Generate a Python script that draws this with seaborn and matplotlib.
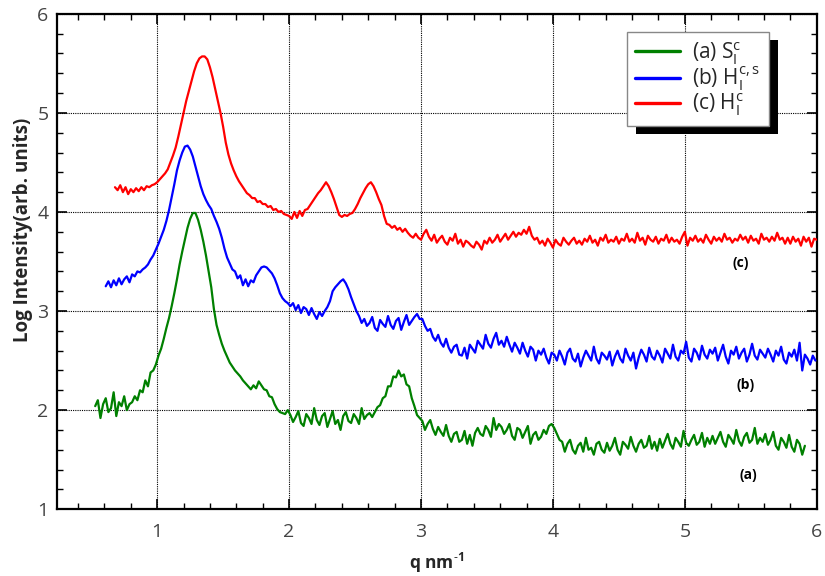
import numpy as np
import pandas as pd
import matplotlib
matplotlib.use("Agg")
import matplotlib.pyplot as plt
from matplotlib import font_manager as fm
from matplotlib.patches import Rectangle
import seaborn as sns

# ---------------- data ----------------
q_step = 0.02

q_start_a = 0.53
int_a = [2.04, 2.10, 1.92, 2.06, 2.12, 1.98, 2.02, 2.18, 1.94, 2.08, 2.04, 2.14, 2.00, 2.06,
         2.08, 2.14, 2.10, 2.20, 2.18, 2.30, 2.24, 2.38, 2.40, 2.46,
         2.55, 2.62, 2.72, 2.83, 2.93, 3.05, 3.18, 3.32, 3.47, 3.60, 3.72, 3.84, 3.93, 3.99, 3.99, 3.92,
         3.82, 3.70, 3.56, 3.40, 3.24, 3.02, 2.86, 2.76, 2.67, 2.60, 2.54, 2.48, 2.44, 2.40, 2.37, 2.34,
         2.30, 2.27, 2.24, 2.21, 2.25, 2.22, 2.29, 2.25, 2.21, 2.20, 2.14, 2.13, 2.06, 2.01, 1.98, 1.97,
         1.96, 2.00,
         1.95, 1.88, 1.93, 1.99, 1.87, 1.84, 1.96, 1.92, 1.86, 2.02, 1.90, 1.85, 1.94, 1.97, 1.83, 1.91,
         1.99, 1.86, 1.90, 1.80, 1.94, 1.98, 1.89, 1.87, 1.96, 1.92, 1.86, 2.02, 1.91, 1.95, 1.97, 1.93,
         1.98, 2.03,
         2.05, 2.12, 2.14, 2.24, 2.24, 2.34, 2.33, 2.40, 2.34, 2.36, 2.26, 2.24, 2.12, 2.04, 1.95, 1.92,
         1.89, 1.80, 1.86, 1.90, 1.81, 1.75, 1.83, 1.78, 1.74, 1.85, 1.74, 1.68, 1.76, 1.78, 1.68,
         1.70, 1.79, 1.66, 1.75, 1.64, 1.77, 1.82, 1.76, 1.74, 1.84, 1.80, 1.73, 1.92, 1.80, 1.86,
         1.83, 1.76, 1.80, 1.86, 1.74, 1.70, 1.82, 1.80, 1.72, 1.78, 1.84, 1.66, 1.75, 1.78, 1.70, 1.73,
         1.80, 1.76, 1.84, 1.86,
         1.82, 1.76, 1.70, 1.68, 1.58, 1.66, 1.70, 1.60, 1.56, 1.64, 1.67, 1.58, 1.72, 1.60, 1.62, 1.55,
         1.66, 1.68, 1.60, 1.57,
         1.67, 1.59, 1.64, 1.72, 1.60, 1.55, 1.68, 1.65, 1.61, 1.73, 1.64, 1.58, 1.66, 1.70, 1.62, 1.64,
         1.74, 1.61, 1.68, 1.59,
         1.71, 1.62, 1.69, 1.76, 1.66, 1.61, 1.72, 1.68, 1.63, 1.79, 1.67, 1.64, 1.70, 1.75, 1.65, 1.68,
         1.77, 1.63, 1.72, 1.66,
         1.74, 1.66, 1.72, 1.78, 1.68, 1.63, 1.75, 1.71, 1.66, 1.80, 1.69, 1.64, 1.73, 1.77, 1.67, 1.70,
         1.82, 1.66, 1.72, 1.68,
         1.76, 1.65, 1.70, 1.78, 1.64, 1.60, 1.72, 1.68, 1.62, 1.75, 1.63, 1.58, 1.70, 1.66, 1.55, 1.64]

q_start_b = 0.61
int_b = [3.25, 3.30, 3.24, 3.31, 3.26, 3.33, 3.27, 3.32, 3.35, 3.29, 3.37, 3.35, 3.40, 3.39, 3.42,
         3.44, 3.47, 3.52, 3.56, 3.62, 3.68, 3.75, 3.82, 3.91, 4.02, 4.15, 4.28, 4.42, 4.52, 4.60,
         4.66, 4.67, 4.63, 4.56, 4.46, 4.36, 4.26, 4.18, 4.12, 4.07, 4.03, 3.96, 3.90, 3.83, 3.74,
         3.63, 3.54, 3.48, 3.42, 3.40, 3.33, 3.36, 3.26, 3.32, 3.25, 3.31, 3.29, 3.36, 3.40, 3.44,
         3.45, 3.44, 3.41, 3.38, 3.33, 3.26, 3.18, 3.13, 3.10, 3.08,
         3.05, 3.08, 3.01, 3.06, 2.98, 3.04, 3.02, 2.96, 3.03, 2.97, 2.92, 2.99, 2.95, 3.00, 3.04,
         3.10, 3.20, 3.24, 3.27, 3.30, 3.32, 3.28, 3.22, 3.14, 3.07, 3.00, 2.95, 2.88,
         2.92, 2.85, 2.88, 2.94, 2.83, 2.80, 2.91, 2.87, 2.84, 2.95, 2.86, 2.82, 2.90, 2.93, 2.81, 2.89,
         2.96, 2.86, 2.90, 2.94, 2.97, 2.92,
         2.92, 2.85, 2.80, 2.82, 2.74, 2.70, 2.76, 2.68, 2.64, 2.72, 2.63, 2.58, 2.64, 2.66, 2.56,
         2.55, 2.63, 2.52, 2.66, 2.62, 2.58, 2.70, 2.66, 2.62, 2.76, 2.67, 2.63, 2.72, 2.78, 2.66,
         2.70, 2.64, 2.74, 2.66, 2.59, 2.68, 2.63, 2.57, 2.68, 2.60, 2.54, 2.64, 2.61, 2.50, 2.60, 2.56,
         2.62, 2.53, 2.47, 2.58,
         2.56, 2.50, 2.60, 2.54, 2.46, 2.58, 2.62, 2.52, 2.49, 2.57, 2.44, 2.53, 2.60, 2.55, 2.50, 2.64,
         2.52, 2.47, 2.58, 2.55,
         2.51, 2.59, 2.45, 2.54, 2.60, 2.52, 2.48, 2.62, 2.55, 2.50, 2.58, 2.42, 2.53, 2.61, 2.56, 2.49,
         2.63, 2.54, 2.51, 2.60,
         2.55, 2.48, 2.62, 2.57, 2.52, 2.66, 2.54, 2.50, 2.60, 2.57, 2.69, 2.53, 2.49, 2.62, 2.58, 2.51,
         2.65, 2.56, 2.52, 2.61,
         2.57, 2.63, 2.50, 2.58, 2.66, 2.54, 2.47, 2.60, 2.56, 2.64, 2.52, 2.58, 2.62, 2.49, 2.56, 2.67,
         2.55, 2.51, 2.61, 2.57,
         2.53, 2.62, 2.56, 2.49, 2.60, 2.55, 2.64, 2.51, 2.47, 2.58, 2.54, 2.61, 2.50, 2.68, 2.40, 2.56,
         2.52, 2.46, 2.55, 2.50]

q_start_c = 0.68
int_c = [4.25, 4.22, 4.27, 4.20, 4.25, 4.18, 4.23, 4.20, 4.24, 4.21, 4.25, 4.22, 4.26, 4.25, 4.27, 4.28,
         4.30, 4.33, 4.36, 4.39, 4.43, 4.50, 4.57, 4.65, 4.76, 4.88, 5.00, 5.12, 5.22, 5.32, 5.42, 5.50,
         5.55, 5.57, 5.57, 5.54, 5.46, 5.36, 5.24, 5.12, 5.00, 4.86, 4.70, 4.58, 4.49, 4.42, 4.36, 4.31,
         4.27, 4.23, 4.19, 4.17, 4.14, 4.14, 4.10, 4.11, 4.08, 4.08, 4.05, 4.06, 4.02, 4.03, 4.00, 4.01,
         3.98, 3.97,
         3.96, 3.93, 4.00, 3.94, 4.01, 3.96, 4.02, 4.03, 4.07, 4.11, 4.15, 4.19, 4.22, 4.26, 4.30, 4.26,
         4.20, 4.13, 4.05, 3.97, 3.95, 3.97, 3.96, 3.98, 3.99, 4.03, 4.08, 4.14, 4.19, 4.24, 4.28, 4.30,
         4.26, 4.20, 4.13, 4.07, 3.96, 3.88, 3.87, 3.84, 3.86, 3.82, 3.84, 3.80, 3.83, 3.79, 3.76, 3.74,
         3.78, 3.74,
         3.72, 3.78, 3.82, 3.75, 3.71, 3.77, 3.69, 3.73, 3.76, 3.70, 3.67, 3.74, 3.71, 3.78, 3.68, 3.72,
         3.65, 3.71, 3.69, 3.66,
         3.64, 3.70, 3.67, 3.62, 3.71, 3.68, 3.74, 3.69, 3.72, 3.77, 3.70, 3.74, 3.78, 3.72, 3.76, 3.80,
         3.75, 3.79, 3.77, 3.82,
         3.78, 3.85, 3.76, 3.72, 3.74, 3.68, 3.71, 3.66, 3.73, 3.69, 3.64, 3.72, 3.68, 3.66, 3.74, 3.70,
         3.67, 3.71, 3.74, 3.68,
         3.71, 3.67, 3.73, 3.70, 3.76, 3.69, 3.72, 3.66, 3.74, 3.71, 3.77, 3.69, 3.72, 3.70, 3.75, 3.68,
         3.73, 3.71, 3.78, 3.70,
         3.73, 3.69, 3.79, 3.71, 3.74, 3.67, 3.76, 3.72, 3.70, 3.75, 3.68, 3.73, 3.71, 3.77, 3.69, 3.74,
         3.70, 3.72, 3.68, 3.75,
         3.80, 3.66, 3.74, 3.71, 3.76, 3.70, 3.73, 3.69, 3.77, 3.72, 3.68, 3.75, 3.71, 3.74, 3.70, 3.78,
         3.72, 3.74, 3.69, 3.73,
         3.71, 3.77, 3.72, 3.75, 3.69, 3.76, 3.71, 3.73, 3.68, 3.78, 3.72, 3.74, 3.70, 3.75, 3.71, 3.79,
         3.72, 3.74, 3.68, 3.74,
         3.68, 3.75, 3.70, 3.73, 3.66, 3.75, 3.70, 3.74, 3.65, 3.73, 3.72]

series_labels = [r"(a) S$_\mathregular{I}^\mathregular{c}$",
                 r"(b) H$_\mathregular{I}^\mathregular{c,s}$",
                 r"(c) H$_\mathregular{I}^\mathregular{c}$"]
series_colors = ["#008000", "#0000ff", "#ff0000"]
curve_tags = ["(a)", "(b)", "(c)"]
tag_pos = [(5.48, 1.34), (5.46, 2.25), (5.42, 3.48)]
major_ticks = [1, 2, 3, 4, 5, 6]

# ---------------- build table ----------------
frames = []
for lab, start, vals in zip(series_labels, [q_start_a, q_start_b, q_start_c], [int_a, int_b, int_c]):
    q = start + q_step * np.arange(len(vals))
    frames.append(pd.DataFrame({"q": q, "I": vals, "series": lab}))
df = pd.concat(frames, ignore_index=True)

# ---------------- plot ----------------
sns.set_style("ticks")
plt.rcParams["font.family"] = ["Open Sans", "DejaVu Sans"]
plt.rcParams["mathtext.fontset"] = "custom"
plt.rcParams["mathtext.rm"] = "Open Sans"
plt.rcParams["mathtext.bf"] = "Open Sans:bold"

installed = {f.name for f in fm.fontManager.ttflist}
tick_family = "Liberation Sans Narrow" if "Liberation Sans Narrow" in installed else "Open Sans"

fig = plt.figure(figsize=(8.25, 5.76), dpi=100)
ax = fig.add_axes([0.069, 0.116, 0.921, 0.860])

sns.lineplot(data=df, x="q", y="I", hue="series", palette=dict(zip(series_labels, series_colors)),
             estimator=None, sort=False, linewidth=1.6, ax=ax, legend=False, zorder=3)

ax.set_xlim(0.24, 6.0)
ax.set_ylim(1, 6)
ax.set_xticks(major_ticks)
ax.set_yticks(major_ticks)
ax.set_xticks(np.arange(0.4, 6.0, 0.2), minor=True)
ax.set_yticks(np.arange(1.2, 6.0, 0.2), minor=True)
ax.grid(True, which="major", color="black", linestyle=(0, (1, 1)), linewidth=0.8, zorder=0)
ax.tick_params(which="both", direction="in", top=True, right=True, color="black",
               labelsize=14, labelcolor="#444444")
ax.tick_params(which="major", length=7, width=1.2)
ax.tick_params(which="minor", length=4, width=1.0)
ax.tick_params(axis="x", which="major", pad=10)
ax.tick_params(axis="y", which="major", pad=6)
for lbl in ax.get_xticklabels() + ax.get_yticklabels():
    lbl.set_fontfamily(tick_family)
for s in ax.spines.values():
    s.set_linewidth(1.6)
    s.set_color("black")

ax.set_xlabel(r"q nm$^{\mathbf{\text{-}1}}$", fontsize=12.5, fontweight="bold", labelpad=7)
ax.set_ylabel("Log Intensity(arb. units)", fontsize=13.5, fontweight="bold")
ax.yaxis.set_label_coords(-0.031, 0.564)

for t, (x, y) in zip(curve_tags, tag_pos):
    ax.text(x, y, t, fontsize=10, fontweight="bold", ha="center", va="center", color="black")

handles = [plt.Line2D([], [], color=c, linewidth=2.4) for c in series_colors]
leg = ax.legend(handles, series_labels, loc="upper left", bbox_to_anchor=(0.75, 0.964),
                fontsize=15, frameon=True, fancybox=False, handlelength=2.15,
                borderpad=0.4, labelspacing=-0.09, handletextpad=0.6, borderaxespad=0)
leg.get_frame().set_edgecolor("#888888")
leg.get_frame().set_linewidth(1.0)
leg.get_frame().set_facecolor("white")
leg.get_frame().set_alpha(1)
leg.set_zorder(7)

fig.canvas.draw()
bb = leg.get_window_extent()
inv = ax.transAxes.inverted()
(x0, y0) = inv.transform((bb.x0 + 9, bb.y0 - 8))
(x1, y1) = inv.transform((bb.x1 + 9, bb.y1 - 8))
ax.add_patch(Rectangle((x0, y0), x1 - x0, y1 - y0, transform=ax.transAxes,
                       facecolor="black", edgecolor="none", zorder=6, clip_on=False))

fig.savefig("out.png", dpi=100)
